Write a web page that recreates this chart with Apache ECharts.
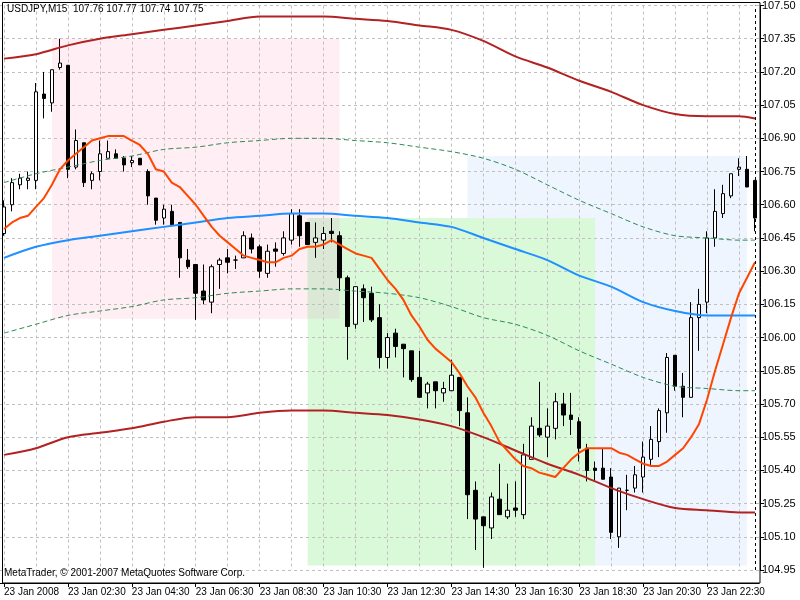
<!DOCTYPE html>
<html><head><meta charset="utf-8">
<script src="https://cdn.jsdelivr.net/npm/echarts@6/dist/echarts.min.js"></script>
<style>html,body{margin:0;padding:0;background:#fff}#c{width:800px;height:600px}</style>
</head><body><div id="c"></div>
<script>
// ---- Data (USDJPY M15, 23 Jan 2008) ----
const titleText = 'USDJPY,M15  107.76 107.77 107.74 107.75';
const copyrightText = 'MetaTrader, \u00A9 2001-2007 MetaQuotes Software Corp.';
const tickLabels = ['23 Jan 2008','23 Jan 02:30','23 Jan 04:30','23 Jan 06:30','23 Jan 08:30','23 Jan 10:30',
  '23 Jan 12:30','23 Jan 14:30','23 Jan 16:30','23 Jan 18:30','23 Jan 20:30','23 Jan 22:30'];
const priceTicks = { min: 104.95, max: 107.50, step: 0.15 };

const openP = [106.47,106.60,106.69,106.71,106.71,107.10,107.06,107.22,107.23,106.77,
106.88,106.71,106.75,106.81,106.83,106.81,106.79,106.81,106.75,106.63,
106.54,106.57,106.52,106.35,106.33,106.21,106.16,106.33,106.36,106.35,
106.36,106.45,106.41,106.29,106.40,106.38,106.44,106.55,106.52,106.43,
106.44,106.48,106.46,106.27,106.06,106.22,106.20,106.09,105.91,106.02,
105.97,105.94,105.82,105.75,105.80,105.75,105.76,105.82,105.66,105.31,
105.19,105.14,105.27,105.19,105.23,105.20,105.45,105.59,105.55,105.59,
105.70,105.65,105.62,105.50,105.41,105.41,105.37,105.10,105.31,105.32,
105.37,105.45,105.53,105.66,105.92,105.78,105.73,106.09,106.16,106.45,
106.56,106.64,106.76,106.76,106.71];
const closeP = [106.59,106.70,106.72,106.72,107.11,107.08,107.21,107.24,106.76,106.89,
106.70,106.74,106.83,106.84,106.81,106.78,106.80,106.78,106.64,106.53,
106.58,106.51,106.36,106.32,106.20,106.17,106.32,106.35,106.34,106.35,
106.46,106.40,106.30,106.39,106.39,106.45,106.56,106.46,106.42,106.45,
106.47,106.47,106.27,106.05,106.23,106.18,106.08,105.91,106.00,105.96,
105.95,105.81,105.73,105.79,105.76,105.77,105.83,105.67,105.29,105.18,
105.15,105.28,105.20,105.22,105.22,105.47,105.60,105.56,105.60,105.71,
105.65,105.63,105.50,105.40,105.40,105.36,105.12,105.32,105.31,105.38,
105.46,105.54,105.67,105.91,105.78,105.73,106.09,106.15,106.45,106.57,
106.65,106.74,106.77,106.68,106.54];
const lowP = [106.46,106.57,106.67,106.67,106.67,106.99,107.02,107.21,106.72,106.76,
106.68,106.67,106.71,106.81,106.81,106.75,106.77,106.78,106.60,106.51,
106.51,106.51,106.27,106.31,106.08,106.15,106.11,106.22,106.29,106.31,
106.36,106.38,106.27,106.27,106.32,106.37,106.42,106.41,106.42,106.36,
106.40,106.43,106.21,105.90,106.04,106.07,106.07,105.86,105.86,105.91,
105.82,105.80,105.73,105.68,105.68,105.71,105.76,105.60,105.18,105.04,
104.96,105.09,105.20,105.18,105.19,105.18,105.45,105.55,105.46,105.54,
105.60,105.56,105.44,105.35,105.35,105.36,105.09,105.05,105.22,105.30,
105.30,105.42,105.46,105.57,105.76,105.64,105.73,105.94,106.11,106.41,
106.54,106.63,106.73,106.68,106.48];
const highP = [106.62,106.72,106.74,106.75,107.15,107.20,107.21,107.35,107.23,106.94,
106.88,106.75,106.89,106.89,106.85,106.82,106.82,106.81,106.76,106.63,
106.60,106.60,106.52,106.40,106.33,106.33,106.33,106.36,106.40,106.37,
106.48,106.47,106.42,106.42,106.43,106.48,106.58,106.58,106.52,106.52,
106.50,106.54,106.48,106.28,106.23,106.24,106.23,106.15,106.02,106.04,
105.97,105.94,105.94,105.80,105.80,105.80,105.90,105.82,105.73,105.35,
105.19,105.30,105.43,105.34,105.35,105.52,105.64,105.80,105.68,105.75,
105.75,105.75,105.64,105.52,105.44,105.50,105.41,105.32,105.38,105.42,
105.53,105.60,105.68,105.93,105.92,105.84,106.16,106.22,106.48,106.67,
106.69,106.74,106.81,106.82,106.71];

// fast moving average (one value per bar)
const fastMA = [106.49,106.52,106.54,106.55,106.59,106.63,106.69,106.76,106.80,106.83,
106.86,106.89,106.90,106.91,106.91,106.91,106.89,106.87,106.83,106.76,
106.75,106.70,106.68,106.64,106.60,106.55,106.50,106.46,106.43,106.40,
106.37,106.36,106.35,106.34,106.34,106.36,106.37,106.40,106.41,106.41,
106.42,106.44,106.42,106.40,106.38,106.37,106.36,106.31,106.26,106.22,
106.17,106.10,106.05,105.99,105.95,105.92,105.89,105.84,105.78,105.73,
105.66,105.60,105.53,105.49,105.45,105.42,105.41,105.39,105.38,105.37,
105.41,105.45,105.48,105.50,105.50,105.50,105.50,105.48,105.47,105.45,
105.43,105.42,105.42,105.44,105.47,105.50,105.55,105.61,105.72,105.85,
105.97,106.09,106.20,106.27,106.34];

// bands, read at these bar indices
const bandIdx = [0,4,8,12,16,20,24,28,32,36,40,44,48,52,56,60,64,68,72,76,80,84,88,92,94];
const upperOuter = [107.26,107.28,107.32,107.35,107.37,107.39,107.41,107.43,107.45,107.45,107.45,107.44,107.43,107.41,107.39,107.34,107.27,107.22,107.16,107.11,107.05,107.01,107.00,107.00,106.99];
const upperInner = [106.70,106.74,106.77,106.80,106.82,106.85,106.86,106.88,106.89,106.90,106.90,106.89,106.88,106.86,106.84,106.81,106.76,106.69,106.62,106.56,106.50,106.46,106.45,106.44,106.44];
const middle = [106.36,106.41,106.44,106.46,106.48,106.50,106.52,106.54,106.55,106.56,106.56,106.55,106.54,106.52,106.50,106.45,106.40,106.35,106.28,106.23,106.16,106.12,106.10,106.10,106.10];
const lowerInner = [106.02,106.06,106.10,106.12,106.14,106.17,106.18,106.20,106.21,106.22,106.22,106.21,106.20,106.18,106.14,106.09,106.06,106.01,105.94,105.88,105.82,105.78,105.77,105.76,105.76];
const lowerOuter = [105.47,105.50,105.55,105.57,105.59,105.62,105.64,105.64,105.66,105.67,105.67,105.66,105.65,105.63,105.60,105.55,105.49,105.43,105.38,105.32,105.27,105.23,105.22,105.21,105.21];

// shaded rectangles: pink, green, blue
const zoneFrom = [6, 38, 58];
const zoneTo   = [42, 74, 93];
const zoneHigh = [107.35, 106.54, 106.82];
const zoneLow  = [106.085, 104.97, 104.97];
const lastBar = 94;

// ---- build ----
const nBars = openP.length;
const categories = [];
for (let i = 0; i < nBars; i++) {
  const m = 30 + 15 * i;
  const hh = Math.floor(m / 60) % 24, mm = m % 60;
  categories.push((hh < 10 ? '0' : '') + hh + ':' + (mm < 10 ? '0' : '') + mm);
}
const candles = openP.map((o, i) => [o, closeP[i], lowP[i], highP[i]]);
const pairs = arr => bandIdx.map((k, i) => [k, arr[i]]);

const FONT = "'Liberation Sans', Arial, sans-serif";
const zoneColors = ['#FFEEF3', '#D9F9D9', '#EEF5FE'];
const areaItem = (i, color) => [
  { xAxis: zoneFrom[i], yAxis: zoneHigh[i], itemStyle: { color } },
  { xAxis: zoneTo[i], yAxis: zoneLow[i] }
];
const ovFrom = Math.max(zoneFrom[0], zoneFrom[1]), ovTo = Math.min(zoneTo[0], zoneTo[1]);
const ovHigh = Math.min(zoneHigh[0], zoneHigh[1]), ovLow = Math.max(zoneLow[0], zoneLow[1]);
const everyLabel = idx => idx % 8 === 0 && idx / 8 < tickLabels.length;

const chart = echarts.init(document.getElementById('c'));
const lineBase = { type: 'line', symbol: 'none', showSymbol: false, silent: true, z: 3 };
chart.setOption({
  animation: false,
  backgroundColor: '#ffffff',
  textStyle: { fontFamily: FONT },
  grid: { left: -1, top: 4, width: 760, height: 566 },
  xAxis: {
    type: 'category', data: categories, boundaryGap: true, offset: 13, z: 1.5,
    axisLine: { show: true, lineStyle: { color: '#000', width: 1 } },
    axisTick: { show: true, interval: everyLabel, alignWithLabel: true, length: 4, lineStyle: { color: '#000' } },
    axisLabel: { interval: everyLabel, align: 'left', margin: 4, fontSize: 10, color: '#000', fontFamily: FONT,
      hideOverlap: false,
      formatter: (v, idx) => tickLabels[Math.round(idx / 8)] || '' },
    splitLine: { show: true, interval: 3, alignWithLabel: true, lineStyle: { color: '#C0C0C0', type: [3, 3], width: 1 } }
  },
  yAxis: {
    type: 'value', position: 'right', offset: 1, z: 1.5,
    min: priceTicks.min, max: priceTicks.max, interval: priceTicks.step,
    axisLine: { show: true, lineStyle: { color: '#000', width: 1 } },
    axisTick: { show: true, length: 4, inside: false, lineStyle: { color: '#000' } },
    axisLabel: { margin: 2, fontSize: 11, color: '#000', fontFamily: FONT, formatter: v => v.toFixed(2) },
    splitLine: { show: true, lineStyle: { color: '#C0C0C0', type: [3, 3], width: 1 } }
  },
  series: [
    {
      type: 'candlestick', data: candles, barWidth: 4, clip: false, silent: true, z: 2,
      itemStyle: { color: '#ffffff', color0: '#000000', borderColor: '#000000', borderColor0: '#000000', borderWidth: 1 },
      markArea: {
        silent: true, z: 1,
        data: [
          areaItem(2, zoneColors[2]),
          areaItem(0, zoneColors[0]),
          areaItem(1, zoneColors[1]),
          [{ xAxis: ovFrom, yAxis: ovHigh, itemStyle: { color: '#DCE8D6' } }, { xAxis: ovTo, yAxis: ovLow }]
        ]
      },
      markLine: {
        silent: true, symbol: ['none', 'none'], label: { show: false },
        lineStyle: { color: '#000', type: [3, 3], width: 1 },
        data: [{ xAxis: lastBar }]
      }
    },
    Object.assign({}, lineBase, { data: pairs(upperOuter), smooth: 0.3, lineStyle: { color: '#B22222', width: 2 } }),
    Object.assign({}, lineBase, { data: pairs(lowerOuter), smooth: 0.3, lineStyle: { color: '#B22222', width: 2 } }),
    Object.assign({}, lineBase, { data: pairs(upperInner), smooth: 0.3, lineStyle: { color: '#2E8B57', width: 1, type: [5, 3] } }),
    Object.assign({}, lineBase, { data: pairs(lowerInner), smooth: 0.3, lineStyle: { color: '#2E8B57', width: 1, type: [5, 3] } }),
    Object.assign({}, lineBase, { data: pairs(middle), smooth: 0.3, lineStyle: { color: '#1E90FF', width: 2 } }),
    Object.assign({}, lineBase, { data: fastMA, lineStyle: { color: '#FF4500', width: 2 } })
  ],
  graphic: [
    { type: 'rect', z: 5, silent: true, shape: { x: 2.5, y: 2.5, width: 757.5, height: 580.5 },
      style: { fill: 'none', stroke: '#000', lineWidth: 1 } },
    { type: 'text', left: 7, top: 4, z: 6, silent: true,
      style: { text: titleText, font: '10px ' + FONT, fill: '#000' } },
    { type: 'text', left: 4, top: 568, z: 6, silent: true,
      style: { text: copyrightText, font: '10px ' + FONT, fill: '#000' } }
  ]
});
</script></body></html>
